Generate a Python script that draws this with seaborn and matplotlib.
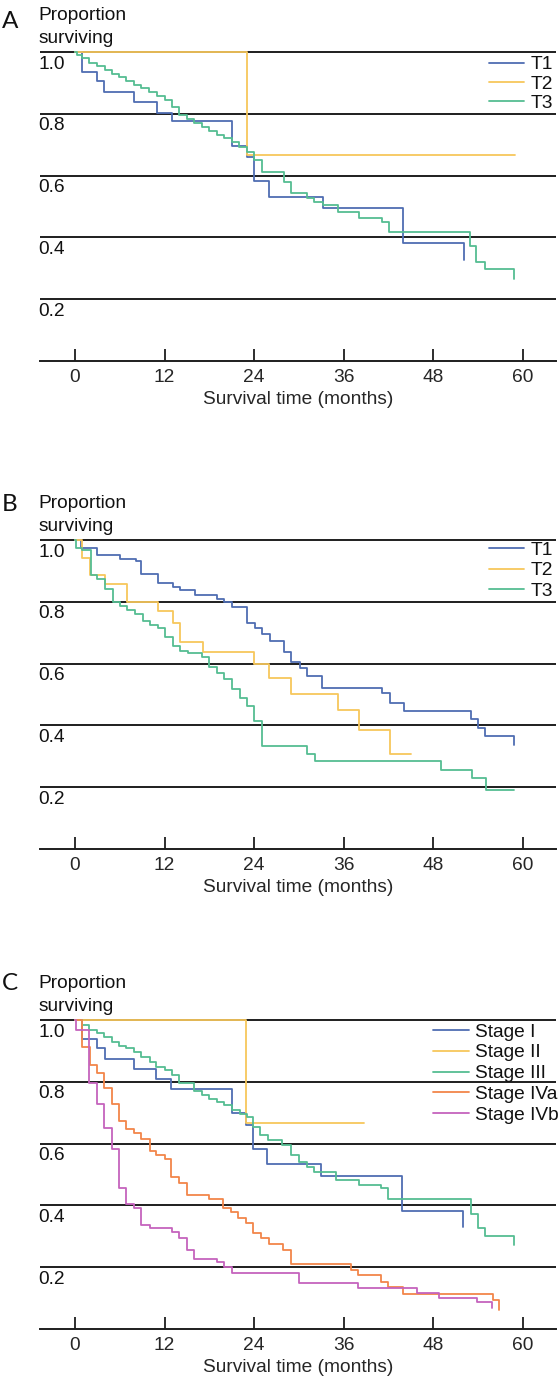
# Kaplan-Meier style survival curves, three stacked panels
import matplotlib
matplotlib.use('Agg')
import matplotlib.pyplot as plt
import seaborn as sns

# ---- Panel A: T1 / T2 / T3 ----
a_t1_time = [0, 1.0, 2.9, 3.9, 7.9, 11.0, 13.0, 21.1, 23.1, 24.0, 26.0, 33.2, 44.0, 52.2]
a_t1_surv = [1.0, 0.934, 0.906, 0.872, 0.839, 0.803, 0.777, 0.697, 0.661, 0.583, 0.532, 0.494, 0.381, 0.327]
a_t2_time = [0, 23.1, 59.0]
a_t2_surv = [1.0, 0.667, 0.667]
a_t3_time = [0, 0.3, 1.0, 1.9, 2.9, 4.0, 4.9, 5.9, 6.8, 7.9, 8.8, 9.9, 11.0, 12.0, 13.0, 14.0,
             15.0, 16.0, 17.0, 18.0, 19.0, 20.0, 21.0, 22.0, 23.0, 24.0, 25.0, 28.0, 29.0, 31.1,
             32.0, 33.2, 35.2, 38.1, 41.1, 42.1, 52.9, 53.8, 54.9, 58.9]
a_t3_surv = [1.0, 0.99, 0.979, 0.966, 0.954, 0.942, 0.93, 0.918, 0.906, 0.894, 0.882, 0.869, 0.856,
             0.844, 0.823, 0.795, 0.783, 0.771, 0.758, 0.745, 0.733, 0.721, 0.71, 0.694, 0.675, 0.65,
             0.613, 0.58, 0.543, 0.526, 0.516, 0.505, 0.483, 0.464, 0.451, 0.419, 0.371, 0.322, 0.298, 0.266]

# ---- Panel B: T1 / T2 / T3 ----
b_t1_time = [0, 0.8, 3.0, 6.0, 8.2, 8.9, 11.1, 13.1, 14.1, 16.1, 19.1, 20.0, 21.0, 23.0, 24.1,
             25.0, 26.1, 28.0, 29.0, 30.1, 31.1, 33.1, 41.1, 42.2, 44.1, 53.1, 54.0, 55.0, 58.9]
b_t1_surv = [1.0, 0.973, 0.953, 0.94, 0.932, 0.891, 0.861, 0.848, 0.839, 0.823, 0.81, 0.799, 0.783,
             0.732, 0.714, 0.696, 0.674, 0.638, 0.604, 0.587, 0.56, 0.522, 0.506, 0.473, 0.448, 0.421,
             0.391, 0.367, 0.338]
b_t2_time = [0, 1.0, 2.0, 4.0, 7.0, 11.1, 13.1, 14.1, 17.1, 24.0, 26.0, 29.0, 35.2, 38.1, 42.2, 45.1]
b_t2_surv = [1.0, 0.942, 0.886, 0.856, 0.799, 0.769, 0.732, 0.671, 0.636, 0.6, 0.553, 0.503, 0.45,
             0.384, 0.308, 0.308]
b_t3_time = [0, 0.1, 1.0, 2.1, 3.0, 4.0, 5.1, 6.0, 7.0, 8.0, 9.1, 10.1, 11.1, 12.1, 13.1, 14.1,
             15.1, 17.0, 18.0, 19.0, 20.0, 21.1, 22.1, 23.0, 24.0, 25.0, 31.1, 32.2, 49.1, 53.2, 55.1, 58.9]
b_t3_surv = [1.0, 0.975, 0.967, 0.886, 0.875, 0.842, 0.799, 0.788, 0.775, 0.761, 0.739, 0.725, 0.714,
             0.685, 0.658, 0.641, 0.634, 0.62, 0.588, 0.571, 0.549, 0.517, 0.49, 0.463, 0.413, 0.333,
             0.309, 0.284, 0.257, 0.231, 0.19, 0.19]

# ---- Panel C: Stage I .. IVb ----
c_s1_time = [0, 1.0, 3.0, 4.0, 7.9, 10.9, 12.9, 21.0, 22.9, 23.9, 25.8, 33.0, 43.9, 52.0]
c_s1_surv = [1.0, 0.937, 0.908, 0.873, 0.84, 0.808, 0.777, 0.70, 0.66, 0.581, 0.534, 0.495, 0.382, 0.331]
c_s2_time = [0, 22.9, 38.7]
c_s2_surv = [1.0, 0.668, 0.668]
c_s3_time = [0, 1.0, 1.9, 2.9, 3.9, 4.9, 5.9, 6.9, 7.9, 8.9, 10.0, 10.9, 12.0, 13.0, 14.0, 16.0,
             17.0, 18.0, 19.0, 20.0, 21.0, 22.1, 23.0, 23.9, 24.8, 25.9, 27.8, 29.0, 30.0, 31.1,
             32.0, 35.0, 38.1, 41.0, 42.0, 53.1, 54.0, 55.0, 58.9]
c_s3_surv = [1.0, 0.984, 0.968, 0.957, 0.946, 0.93, 0.917, 0.908, 0.895, 0.881, 0.865, 0.849, 0.838,
             0.822, 0.795, 0.77, 0.757, 0.743, 0.734, 0.725, 0.709, 0.695, 0.687, 0.655, 0.628, 0.612,
             0.595, 0.563, 0.542, 0.525, 0.509, 0.482, 0.466, 0.455, 0.42, 0.372, 0.326, 0.302, 0.273]
c_s4a_time = [0, 1.0, 2.0, 2.9, 3.9, 4.9, 5.9, 6.9, 7.9, 8.9, 10.0, 10.9, 12.0, 12.9, 13.9, 15.0,
              18.0, 19.9, 20.9, 21.9, 22.9, 23.9, 24.9, 26.0, 27.9, 29.0, 37.0, 38.0, 41.0, 42.0,
              44.0, 56.0, 56.9]
c_s4a_surv = [1.0, 0.914, 0.854, 0.827, 0.779, 0.727, 0.673, 0.646, 0.633, 0.615, 0.577, 0.563, 0.55,
              0.491, 0.471, 0.434, 0.42, 0.393, 0.38, 0.358, 0.342, 0.31, 0.296, 0.274, 0.256, 0.21,
              0.19, 0.174, 0.152, 0.135, 0.114, 0.094, 0.06]
c_s4b_time = [0, 0.1, 1.9, 2.9, 3.9, 4.9, 5.9, 6.9, 7.9, 8.9, 10.0, 13.0, 13.9, 15.0, 16.0, 19.0,
              20.0, 21.0, 30.0, 38.0, 45.8, 48.8, 53.9, 55.9]
c_s4b_surv = [1.0, 0.967, 0.795, 0.727, 0.649, 0.581, 0.455, 0.403, 0.393, 0.337, 0.326, 0.313, 0.296,
              0.256, 0.227, 0.216, 0.202, 0.182, 0.148, 0.132, 0.116, 0.1, 0.088, 0.067]

x_ticks = [0, 12, 24, 36, 48, 60]
grid_levels = [0.2, 0.4, 0.6, 0.8, 1.0]

BLUE, YELLOW, GREEN = '#4f6db2', '#f7c75c', '#55bd92'
ORANGE, PURPLE = '#f2864a', '#c563bd'

sns.set_style('white')
plt.rcParams['font.family'] = ['Liberation Sans', 'DejaVu Sans']
plt.rcParams['text.color'] = '#111111'

W, H = 560, 1384
X0, X1 = 40, 556            # pixel extent of the horizontal rules
ZERO_PX, PX_MONTH = 75, 7.46
UNIT = 309                  # pixels per 1.0 survival
FS = 13.8

fig = plt.figure(figsize=(W / 100, H / 100), dpi=100)


def panel(y_top, letter, letter_dy, curves, leg_right, leg_top, leg_space):
    bottom = y_top + UNIT
    ax = fig.add_axes([X0 / W, 1 - bottom / H, (X1 - X0) / W, 1.05 * UNIT / H])
    for name, t, s, c in curves:
        sns.lineplot(x=t, y=s, color=c, label=name, drawstyle='steps-post',
                     estimator=None, linewidth=1.3, ax=ax, zorder=3)
    ax.set_xlim((X0 - ZERO_PX) / PX_MONTH, (X1 - ZERO_PX) / PX_MONTH)
    ax.set_ylim(0, 1.05)

    for v in grid_levels:
        ax.axhline(v, color='#1e1e1e', lw=1.4, zorder=2)
        ax.text((38.6 - ZERO_PX) / PX_MONTH, v - 0.054, f'{v:.1f}',
                ha='left', va='baseline', fontsize=FS)

    ax.text((38.6 - ZERO_PX) / PX_MONTH, 1.0 + 9.4 / UNIT, 'Proportion\nsurviving',
            ha='left', va='baseline', fontsize=FS, linespacing=1.42)
    fig.text(2 / W, 1 - (y_top + letter_dy) / H, letter, fontsize=17.5,
             ha='left', va='baseline', family=['Lato', 'DejaVu Sans'])

    for side in ['left', 'right', 'top']:
        ax.spines[side].set_visible(False)
    ax.spines['bottom'].set_color('#1e1e1e')
    ax.spines['bottom'].set_linewidth(1.4)
    ax.set_yticks([])
    ax.set_xticks(x_ticks)
    ax.tick_params(axis='x', bottom=True, direction='in', length=8.6, width=1.3,
                   color='#1e1e1e', pad=5.5, labelsize=FS)
    ax.set_ylabel('')
    ax.set_xlabel('Survival time (months)', fontsize=FS, labelpad=4)

    ax.legend(loc='upper right', bbox_to_anchor=(leg_right, leg_top),
              bbox_transform=ax.transData, frameon=False, fontsize=FS,
              handlelength=1.85, handletextpad=0.35, labelspacing=leg_space,
              borderpad=0, borderaxespad=0)
    return ax


panel(52, 'A', -24, [('T1', a_t1_time, a_t1_surv, BLUE),
                     ('T2', a_t2_time, a_t2_surv, YELLOW),
                     ('T3', a_t3_time, a_t3_surv, GREEN)],
      64.1, 0.987, 0.1)

panel(540, 'B', -29, [('T1', b_t1_time, b_t1_surv, BLUE),
                      ('T2', b_t2_time, b_t2_surv, YELLOW),
                      ('T3', b_t3_time, b_t3_surv, GREEN)],
      64.1, 0.995, 0.16)

panel(1020, 'C', -30, [('Stage I', c_s1_time, c_s1_surv, BLUE),
                       ('Stage II', c_s2_time, c_s2_surv, YELLOW),
                       ('Stage III', c_s3_time, c_s3_surv, GREEN),
                       ('Stage IVa', c_s4a_time, c_s4a_surv, ORANGE),
                       ('Stage IVb', c_s4b_time, c_s4b_surv, PURPLE)],
      64.9, 0.99, 0.18)

fig.savefig('out.png', dpi=100)
